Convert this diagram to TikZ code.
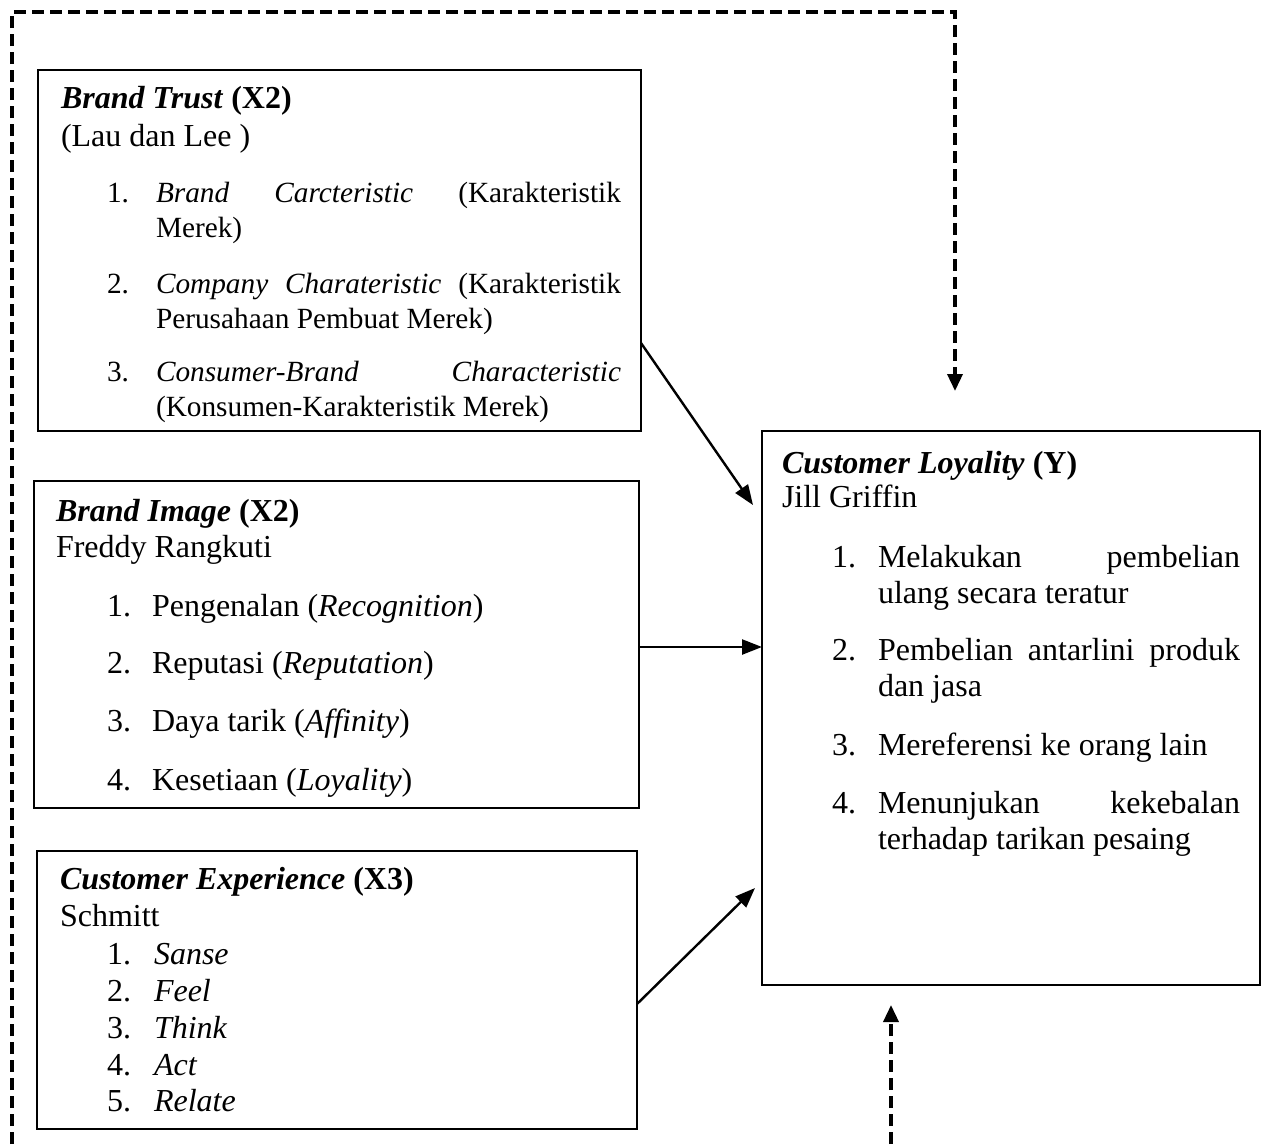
\documentclass[tikz,border=0pt]{standalone}
\usepackage{fontspec}
\setmainfont{Liberation Serif}
\usetikzlibrary{arrows.meta}
\begin{document}
\begin{tikzpicture}[x=1pt,y=-1pt,
  txt/.style={anchor=base west, inner sep=0pt, outer sep=0pt, font=\fontsize{32}{36}\selectfont},
  smallfont/.style={font=\fontsize{29.3}{35.5}\selectfont},
  para/.style={txt, align=justify, text width=#1,
    execute at begin node={\sloppy\hyphenpenalty=10000\exhyphenpenalty=10000}},
  box/.style={draw, line width=1.8pt, anchor=north west, inner sep=0pt, outer sep=0pt},
  linkarrow/.style={line width=2.4pt, -{Triangle[length=20pt,width=15pt]}},
  feedback/.style={line width=3.5pt, dash pattern=on 12pt off 6pt,
    -{Triangle[length=17pt,width=15pt]}},
]
\useasboundingbox (0,0) rectangle (1267,1144);

% ---------- boxes ----------
\node[box, minimum width=603pt, minimum height=361pt] (bt) at (38,70) {};
\node[box, minimum width=605pt, minimum height=327pt] (bi) at (34,481) {};
\node[box, minimum width=600pt, minimum height=278pt] (ce) at (37,851) {};
\node[box, minimum width=498pt, minimum height=554pt] (cl) at (762,431) {};

% ---------- Brand Trust ----------
\node[txt] (btT) at (61,108) {\textbf{\textit{Brand Trust}} \textbf{(X2)}};
\node[txt] (btA) at (61,146) {(Lau dan Lee )};
\node[txt, smallfont] (bt1n) at (107,202) {1.};
\node[para=465pt, smallfont] (bt1) at (156,202)
  {\textit{Brand Carcteristic} (Karakteristik\linebreak Merek)};
\node[txt, smallfont] (bt2n) at (107,293) {2.};
\node[para=465pt, smallfont] (bt2) at (156,293)
  {\textit{Company Charateristic} (Karakteristik\linebreak Perusahaan Pembuat Merek)};
\node[txt, smallfont] (bt3n) at (107,381) {3.};
\node[para=465pt, smallfont] (bt3) at (156,381)
  {\textit{Consumer-Brand Characteristic}\linebreak (Konsumen-Karakteristik Merek)};

% ---------- Brand Image ----------
\node[txt] (biT) at (56,521) {\textbf{\textit{Brand Image}} \textbf{(X2)}};
\node[txt] (biA) at (56,557) {Freddy Rangkuti};
\node[txt] (bi1n) at (107,616) {1.};
\node[txt] (bi1) at (152,616) {Pengenalan (\textit{Recognition})};
\node[txt] (bi2n) at (107,673) {2.};
\node[txt] (bi2) at (152,673) {Reputasi (\textit{Reputation})};
\node[txt] (bi3n) at (107,731) {3.};
\node[txt] (bi3) at (152,731) {Daya tarik (\textit{Affinity})};
\node[txt] (bi4n) at (107,790) {4.};
\node[txt] (bi4) at (152,790) {Kesetiaan (\textit{Loyality})};

% ---------- Customer Experience ----------
\node[txt] (ceT) at (60,889) {\textbf{\textit{Customer Experience}} \textbf{(X3)}};
\node[txt] (ceA) at (60,926) {Schmitt};
\node[txt] (ce1n) at (107,964) {1.};
\node[txt] (ce1) at (154,964) {\textit{Sanse}};
\node[txt] (ce2n) at (107,1001) {2.};
\node[txt] (ce2) at (154,1001) {\textit{Feel}};
\node[txt] (ce3n) at (107,1038) {3.};
\node[txt] (ce3) at (154,1038) {\textit{Think}};
\node[txt] (ce4n) at (107,1075) {4.};
\node[txt] (ce4) at (154,1075) {\textit{Act}};
\node[txt] (ce5n) at (107,1111) {5.};
\node[txt] (ce5) at (154,1111) {\textit{Relate}};

% ---------- Customer Loyality ----------
\node[txt] (clT) at (782,473) {\textbf{\textit{Customer Loyality}} \textbf{(Y)}};
\node[txt] (clA) at (782,507) {Jill Griffin};
\node[txt] (cl1n) at (832,567) {1.};
\node[para=362pt] (cl1) at (878,567) {Melakukan pembelian\linebreak ulang secara teratur};
\node[txt] (cl2n) at (832,660) {2.};
\node[para=362pt] (cl2) at (878,660) {Pembelian antarlini produk\linebreak dan jasa};
\node[txt] (cl3n) at (832,755) {3.};
\node[txt] (cl3) at (878,755) {Mereferensi ke orang lain};
\node[txt] (cl4n) at (832,813) {4.};
\node[para=362pt] (cl4) at (878,813) {Menunjukan kekebalan\linebreak terhadap tarikan pesaing};

% ---------- connectors ----------
\draw[linkarrow] ([yshift=-273pt]bt.north east) -- ([xshift=-9pt,yshift=-74pt]cl.north west);
\draw[linkarrow] ([yshift=-2.5pt]bi.east) -- ([yshift=-2.5pt]bi.east -| cl.west);
\draw[linkarrow] ([yshift=-153pt]ce.north east) -- ([xshift=-7pt,yshift=-457pt]cl.north west);

% ---------- dashed feedback lines ----------
\coordinate (fbA) at (12,1144);
\coordinate (fbB) at (12,12);
\coordinate (fbC) at (955,12);
\coordinate (fbD) at (955,391);
\draw[feedback] (fbA) -- (fbB) -- (fbC) -- (fbD);
\coordinate (fbE) at (891,1144);
\coordinate (fbF) at (891,1005);
\draw[feedback] (fbE) -- (fbF);
\end{tikzpicture}
\end{document}
